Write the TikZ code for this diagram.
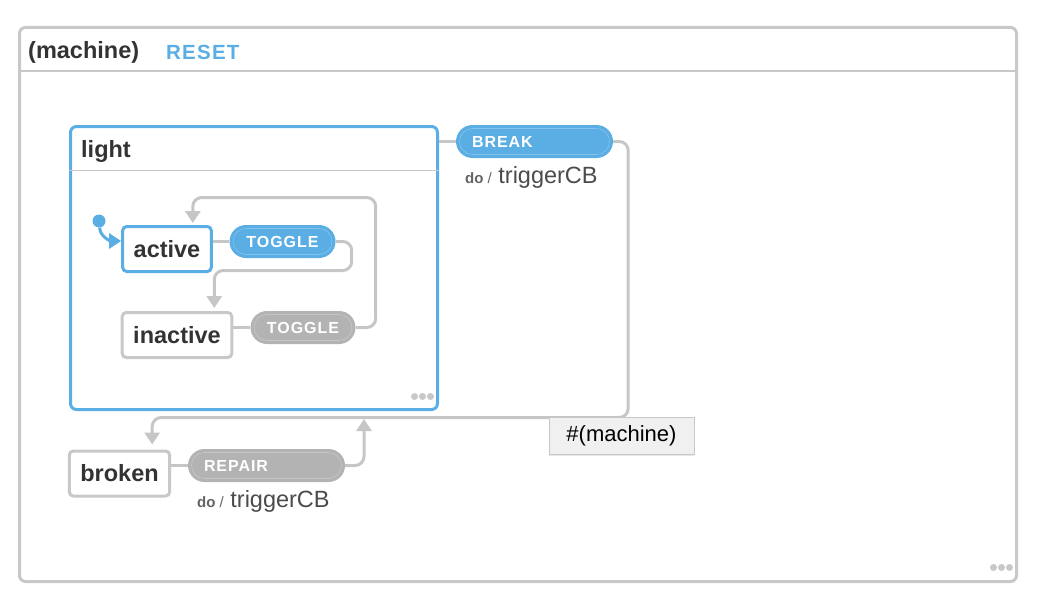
\documentclass[tikz,border=0pt]{standalone}
\usepackage{fontspec}
\setmainfont{Liberation Sans}
\newfontfamily\eventfont[LetterSpace=6]{Liberation Sans}
\usetikzlibrary{arrows.meta,calc,shadows}
\definecolor{xblue}{RGB}{90,174,228}
\definecolor{xgray}{RGB}{200,200,200}
\definecolor{xline}{RGB}{198,198,198}
\definecolor{xpill}{RGB}{179,179,179}
\definecolor{xtext}{RGB}{51,51,51}
\definecolor{xdo}{RGB}{100,100,100}
\definecolor{xaction}{RGB}{75,75,75}
\tikzset{
  state/.style={
    rectangle,
    draw=xgray, line width=3pt,
    fill=white,
    rounded corners=4pt,
    minimum height=45pt,
    inner xsep=11pt,
    text=xtext,
    font=\bfseries\fontsize{23.5}{28}\selectfont},
  compound/.style={rectangle, draw=xgray, line width=3pt, rounded corners=6pt},
  title/.style={inner sep=0pt, text=xtext, font=\bfseries\fontsize{23.5}{28}\selectfont},
  event/.style={
    rectangle,
    fill=xpill,
    rounded corners=16.5pt,
    minimum height=33pt,
    inner xsep=16pt,
    text=white,
    font=\eventfont\bfseries\fontsize{16}{19}\selectfont,
    path picture={\draw[white, opacity=.25, line width=.6pt, rounded corners=13pt]
      ($(path picture bounding box.south west)+(3.5pt,3.5pt)$) rectangle
      ($(path picture bounding box.north east)+(-3.5pt,-3.5pt)$);}},
  dolabel/.style={inner sep=0pt, text=xaction, font=\fontsize{23.5}{28}\selectfont},
  edge/.style={draw=xline, line width=3pt, rounded corners=9pt},
  initdot/.style={fill=xblue, shape=circle, minimum size=13pt, inner sep=0pt},
  tooltip/.style={rectangle, draw=xgray, line width=.8pt, fill=black!6,
    minimum width=145pt, minimum height=37pt, font=\fontsize{22}{26}\selectfont,
    drop shadow={opacity=.2, shadow xshift=0pt, shadow yshift=-2pt}},
}
\tikzset{>={Triangle[width=15pt,length=12pt]}}
\newcommand{\doact}[1]{{\color{xdo}\fontsize{15}{18}\selectfont\textbf{do} /} #1}

\begin{document}
\begin{tikzpicture}[x=1pt,y=1pt]
\useasboundingbox (0,0) rectangle (1038,-602);

\node[compound, minimum width=997pt, minimum height=554pt] at (518,-304.5) (machine) {};
\draw[xgray, line width=1.5pt] ($(machine.north west)+(0,-45)$) -- ($(machine.north east)+(0,-45)$);
\node[title, anchor=west] at (28,-52.5) (machinename) {(machine)};
\node[inner sep=0pt, anchor=west, text=xblue, font=\eventfont\bfseries\fontsize{20.5}{24}\selectfont] at (166,-52.5) (reset) {RESET};

\node[compound, draw=xblue, minimum width=367pt, minimum height=283pt] at (254,-268) (light) {};
\draw[xgray, line width=1.5pt] ($(light.north west)+(0,-45.5)$) -- ($(light.north east)+(0,-45.5)$);
\node[title, anchor=west] at (81,-151.5) (lightname) {light};

\node[state, draw=xblue] at (167,-249) (active)   {active};
\node[state] at (177,-335) (inactive) {inactive};
\node[state] at (119.5,-473.5) (broken) {broken};

\node[event, fill=xblue, minimum width=106pt] at (282.5,-241.5) (toggleA) {TOGGLE};
\node[event, minimum width=105pt] at (303,-327.5) (toggleB) {TOGGLE};
\node[event, fill=xblue, text width=125pt, align=left] at (534.5,-141.5) (break) {BREAK};
\node[event, text width=125pt, align=left] at (266.5,-465.5) (repair) {REPAIR};

\node[dolabel, anchor=base west] at (465,-183) (breakdo) {\doact{triggerCB}};
\node[dolabel, anchor=base west] at (197,-507) (repairdo) {\doact{triggerCB}};

\node[initdot] at (99,-221) (init) {};
\draw[->, xblue, line width=3pt] (init) to[out=-85,in=180] ($(active.west)+(0,8)$);

\draw[edge] (toggleA.west -| active.east) -- (toggleA.west);
\draw[edge] (toggleB.west -| inactive.east) -- (toggleB.west);
\draw[edge] (break.west -| light.east) -- (break.west);
\draw[edge] (repair.west -| broken.east) -- (repair.west);

\draw[edge, ->, shorten >=3pt] (toggleA.east) -- ++(16,0) -- ++(0,-29) -| ($(inactive.north east)+(-19,0)$);
\draw[edge, ->, shorten >=2pt] (toggleB.east) -- ++(20,0) -- ++(0,130) -| ($(active.north east)+(-20,0)$);
\draw[edge, ->, shorten >=5pt] (break.east) -- ++(15,0) -- ++(0,-276) -| ($(broken.north east)+(-19,0)$);
\draw[edge, ->] (repair.east) -| ($(light.south west)+(295,-8)$);

\foreach \dx in {0,8,16}
  \fill[xgray] ($(light.south east)+(-24.5+\dx,14.5)$) circle (3.5pt);
\foreach \dx in {0,8,16}
  \fill[xgray] ($(machine.south east)+(-24.5+\dx,15.5)$) circle (3.5pt);

\node[tooltip] at (621.5,-435.5) (tip) {\#(machine)};
\end{tikzpicture}
\end{document}
